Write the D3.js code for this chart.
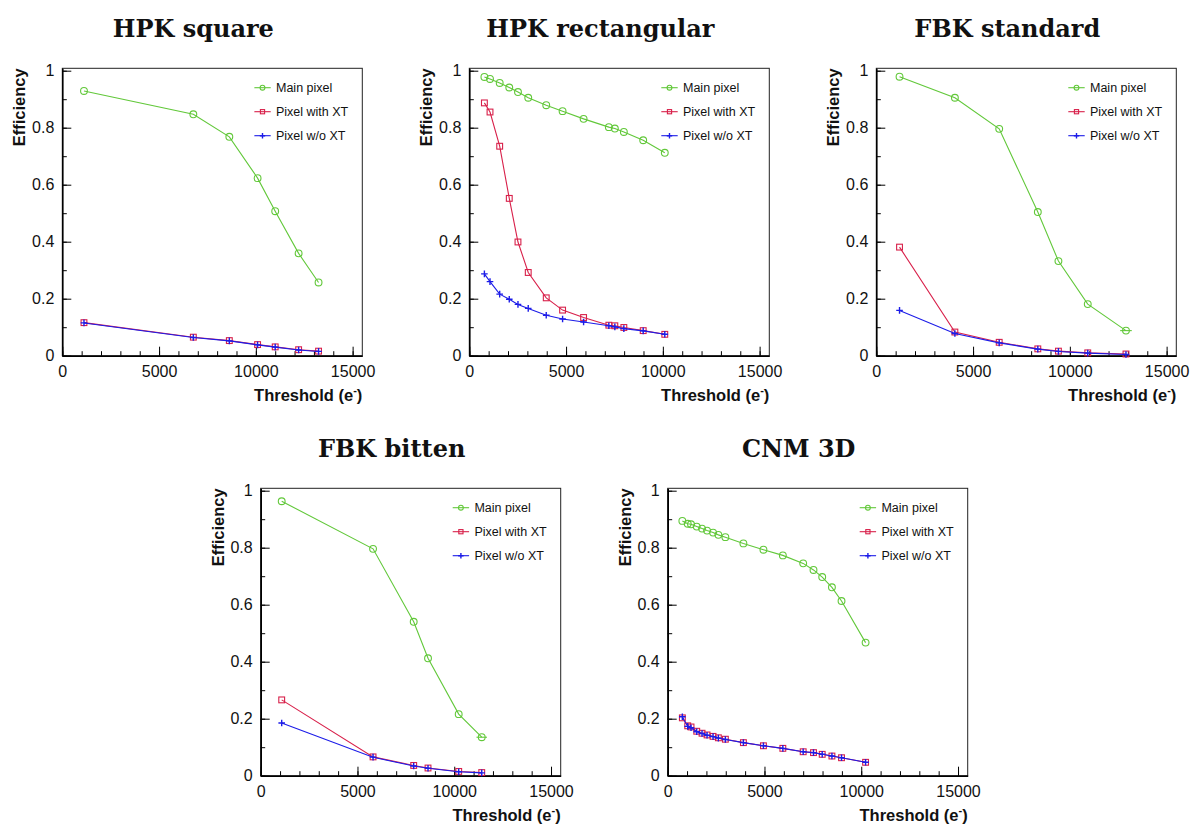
<!DOCTYPE html>
<html><head><meta charset="utf-8">
<script src="https://cdn.jsdelivr.net/npm/d3@7"></script>
<style>
html,body{margin:0;padding:0;background:#fff;}
svg{display:block;}
</style>
</head><body>
<svg id="c" width="1191" height="824"></svg>
<script>
// ---------- data ----------
const titles = ["HPK square", "HPK rectangular", "FBK standard", "FBK bitten", "CNM 3D"];
const seriesNames = ["Main pixel", "Pixel with XT", "Pixel w/o XT"];
const xTicks = [0, 5000, 10000, 15000];
const yTicks = [0, 0.2, 0.4, 0.6, 0.8, 1];
const xTitle = "Threshold (e";
const yTitle = "Efficiency";

const hpkSqX    = [1120, 6770, 8630, 10090, 11000, 12210, 13240];
const hpkSqMain = [0.929, 0.847, 0.768, 0.623, 0.507, 0.359, 0.257];
const hpkSqXT   = [0.116, 0.065, 0.053, 0.039, 0.031, 0.021, 0.016];
const hpkSqNoXT = [0.115, 0.064, 0.052, 0.038, 0.030, 0.020, 0.015];

const hpkRectX    = [780, 1070, 1570, 2065, 2515, 3045, 3975, 4820, 5905, 7210, 7520, 7985, 8985, 10100];
const hpkRectMain = [0.978, 0.971, 0.957, 0.941, 0.925, 0.905, 0.879, 0.858, 0.831, 0.802, 0.797, 0.785, 0.756, 0.712];
const hpkRectXT   = [0.887, 0.855, 0.735, 0.552, 0.399, 0.292, 0.203, 0.160, 0.134, 0.107, 0.105, 0.099, 0.088, 0.075];
const hpkRectNoXT = [0.287, 0.260, 0.216, 0.198, 0.180, 0.166, 0.142, 0.129, 0.118, 0.105, 0.101, 0.095, 0.087, 0.075];

const fbkStdX    = [1200, 4060, 6350, 8345, 9410, 10925, 12900];
const fbkStdMain = [0.979, 0.905, 0.796, 0.504, 0.332, 0.181, 0.088];
const fbkStdXT   = [0.381, 0.083, 0.047, 0.024, 0.016, 0.010, 0.006];
const fbkStdNoXT = [0.159, 0.078, 0.045, 0.023, 0.015, 0.009, 0.004];
const fbkStdMainXErr = [0, 0, 0, 0, 0, 0, 300];

const fbkBitX    = [1085, 5805, 7905, 8645, 10230, 11420];
const fbkBitMain = [0.963, 0.796, 0.540, 0.412, 0.216, 0.135];
const fbkBitXT   = [0.266, 0.066, 0.036, 0.027, 0.015, 0.011];
const fbkBitNoXT = [0.185, 0.065, 0.034, 0.026, 0.014, 0.010];
const fbkBitMainXErr = [0, 0, 0, 0, 0, 270];

const cnmX    = [757, 1034, 1205, 1500, 1774, 2033, 2344, 2618, 2980, 3911, 4946, 5949, 7000, 7533, 7983, 8485, 8981, 10224];
const cnmMain = [0.894, 0.884, 0.882, 0.874, 0.867, 0.860, 0.853, 0.845, 0.837, 0.815, 0.793, 0.773, 0.745, 0.722, 0.697, 0.661, 0.613, 0.467];
const cnmXT   = [0.203, 0.175, 0.171, 0.156, 0.149, 0.143, 0.138, 0.133, 0.128, 0.116, 0.105, 0.096, 0.084, 0.081, 0.075, 0.069, 0.063, 0.047];
const cnmNoXT = [0.207, 0.173, 0.168, 0.154, 0.148, 0.142, 0.137, 0.132, 0.127, 0.116, 0.105, 0.096, 0.084, 0.081, 0.075, 0.069, 0.063, 0.047];

const panelData = [
  {x: hpkSqX,   s: [hpkSqMain, hpkSqXT, hpkSqNoXT]},
  {x: hpkRectX, s: [hpkRectMain, hpkRectXT, hpkRectNoXT]},
  {x: fbkStdX,  s: [fbkStdMain, fbkStdXT, fbkStdNoXT], xerr: [fbkStdMainXErr, null, null]},
  {x: fbkBitX,  s: [fbkBitMain, fbkBitXT, fbkBitNoXT], xerr: [fbkBitMainXErr, null, null]},
  {x: cnmX,     s: [cnmMain, cnmXT, cnmNoXT]}
];

// ---------- layout / style ----------
const frames = [[62.3, 68.3], [469.3, 68.3], [876.3, 68.3], [260.7, 488.3], [667.7, 488.3]];
const FW = 300, FH = 287.4;
const colors = ["#62c83a", "#d8204a", "#1c1ce8"];
const markers = ["circle", "square", "plus"];

const svg = d3.select("#c");
const x = d3.scaleLinear().domain([0, 15500]).range([0, FW]);
const y = d3.scaleLinear().domain([0, 1.0084]).range([FH, 0]);

function drawMarker(g, type, cx, cy, color, size) {
  if (type === "circle") {
    g.append("circle").attr("cx", cx).attr("cy", cy).attr("r", size)
      .attr("fill", "none").attr("stroke", color).attr("stroke-width", 1.1);
  } else if (type === "square") {
    g.append("rect").attr("x", cx - size).attr("y", cy - size)
      .attr("width", 2 * size).attr("height", 2 * size)
      .attr("fill", "none").attr("stroke", color).attr("stroke-width", 1.1);
  } else {
    g.append("path").attr("d", `M${cx - size},${cy}H${cx + size}M${cx},${cy - size}V${cy + size}`)
      .attr("stroke", color).attr("stroke-width", 1.4).attr("fill", "none");
  }
}

frames.forEach((f, i) => {
  const g = svg.append("g").attr("transform", `translate(${f[0]},${f[1]})`);
  // title
  svg.append("text").attr("x", f[0] + 131).attr("y", f[1] - 31)
    .attr("text-anchor", "middle")
    .attr("font-family", "'DejaVu Serif', serif").attr("font-weight", "bold")
    .attr("font-size", 24).attr("fill", "#111").text(titles[i]);
  // frame
  g.append("rect").attr("width", FW).attr("height", FH)
    .attr("fill", "none").attr("stroke", "#222").attr("stroke-width", 1);

  // minor ticks
  g.append("g").attr("transform", `translate(0,${FH})`)
    .call(d3.axisBottom(x).tickValues(d3.range(0, 15001, 1000)).tickSize(-4.5).tickFormat("").tickSizeOuter(0))
    .call(s => s.select(".domain").remove());
  g.append("g")
    .call(d3.axisLeft(y).tickValues(d3.range(0, 1.001, 0.1)).tickSize(-4.5).tickFormat("").tickSizeOuter(0))
    .call(s => s.select(".domain").remove());
  // major axes
  const xa = g.append("g").attr("transform", `translate(0,${FH})`)
    .call(d3.axisBottom(x).tickValues(xTicks).tickSize(-9).tickSizeOuter(0).tickPadding(8).tickFormat(d3.format("d")));
  const ya = g.append("g")
    .call(d3.axisLeft(y).tickValues(yTicks).tickSize(-9).tickSizeOuter(0).tickPadding(8).tickFormat(d => d === 0 ? "0" : d === 1 ? "1" : d3.format(".1f")(d)));
  [xa, ya].forEach(a => {
    a.selectAll("text").attr("font-family", "'Liberation Sans', Arial, sans-serif").attr("font-size", 16).attr("fill", "#111");
    a.select(".domain").attr("stroke", "#000").attr("stroke-width", 1.6);
    a.selectAll(".tick line").attr("stroke", "#000").attr("stroke-width", 1);
  });
  xa.selectAll("text").attr("y", 10).attr("dy", "0.71em");
  g.selectAll(".tick line").attr("stroke", "#000");

  // axis titles
  const xt = g.append("text").attr("x", FW).attr("y", FH + 45).attr("text-anchor", "end")
    .attr("font-family", "'Liberation Sans', Arial, sans-serif").attr("font-weight", "bold")
    .attr("font-size", 16.5).attr("fill", "#111");
  xt.append("tspan").text(xTitle);
  xt.append("tspan").attr("font-size", 11).attr("dy", -7).text("-");
  xt.append("tspan").attr("dy", 7).text(")");
  g.append("text").attr("transform", `translate(${-37},0) rotate(-90)`).attr("text-anchor", "end")
    .attr("font-family", "'Liberation Sans', Arial, sans-serif").attr("font-weight", "bold")
    .attr("font-size", 16.5).attr("fill", "#111").text(yTitle);

  // series
  const pd = panelData[i];
  pd.s.forEach((vals, k) => {
    const pts = pd.x.map((xv, j) => [x(xv), y(vals[j])]);
    g.append("path").attr("d", d3.line()(pts)).attr("fill", "none")
      .attr("stroke", colors[k]).attr("stroke-width", 1.1);
    const errs = pd.xerr && pd.xerr[k];
    if (errs) {
      pd.x.forEach((xv, j) => {
        if (errs[j] > 0) {
          g.append("line").attr("x1", x(xv - errs[j])).attr("x2", x(xv + errs[j]))
            .attr("y1", y(vals[j])).attr("y2", y(vals[j]))
            .attr("stroke", colors[k]).attr("stroke-width", 1.1);
        }
      });
    }
    const mg = g.append("g");
    pts.forEach(p => drawMarker(mg, markers[k], p[0], p[1], colors[k], k === 0 ? 3.4 : (k === 1 ? 2.9 : 3.3)));
  });

  // legend
  seriesNames.forEach((name, k) => {
    const ly = 19.4 + 24 * k;
    g.append("line").attr("x1", 192).attr("x2", 208.4).attr("y1", ly).attr("y2", ly)
      .attr("stroke", colors[k]).attr("stroke-width", 1.1);
    drawMarker(g, markers[k], 200.2, ly, colors[k], k === 0 ? 2.4 : (k === 1 ? 2.1 : 2.7));
    g.append("text").attr("x", 213.7).attr("y", ly).attr("dy", "0.35em")
      .attr("font-family", "'Liberation Sans', Arial, sans-serif").attr("font-size", 12.5)
      .attr("fill", "#111").text(name);
  });
});
</script>
</body></html>
